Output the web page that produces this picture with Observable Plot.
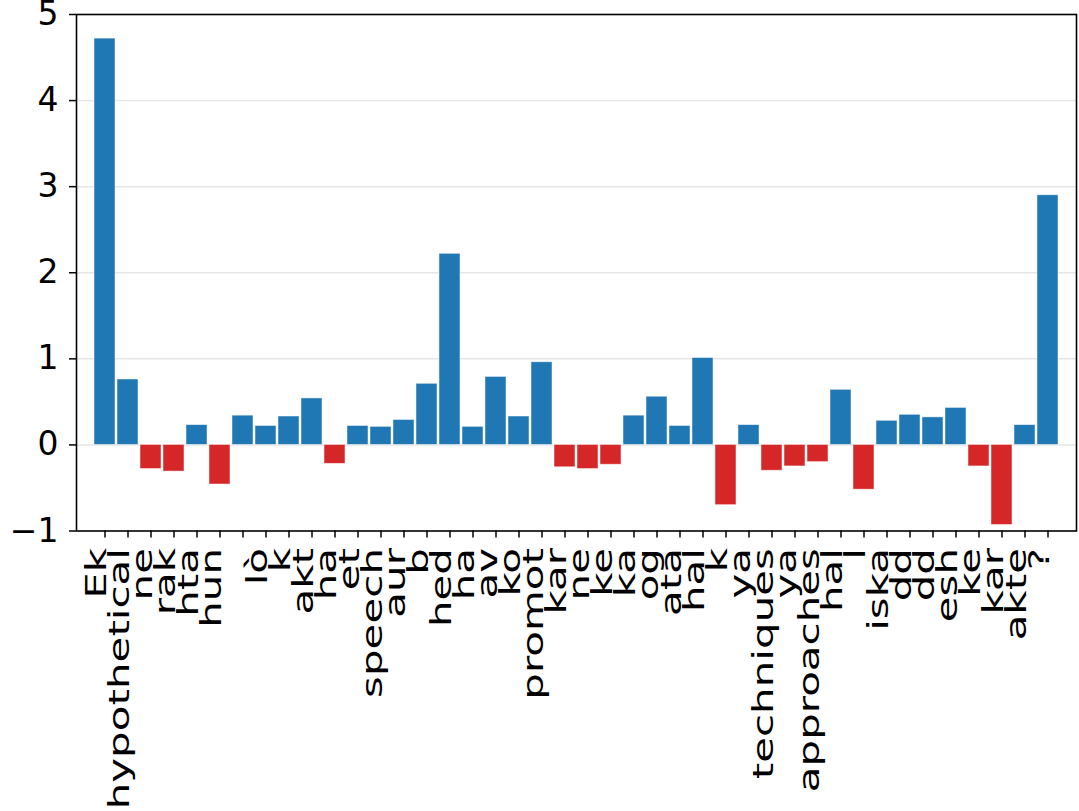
<!DOCTYPE html>
<html><head><meta charset="utf-8">
<script src="https://cdn.jsdelivr.net/npm/d3@7"></script>
<script src="https://cdn.jsdelivr.net/npm/@observablehq/plot@0.6"></script>
<style>body{margin:0;background:#fff}</style>
</head><body><div id="chart"></div>
<script>
const labels = ["Ek","hypothetical","ne","rak","hta","hun"," ","lò","k","akt","ha","et","speech","aur","b","hed","ha","av","ko","promot","kar","ne","ke","ka","og","ata","hal","k","ya","techniques","ya","approaches","hal","l","iska","dd","dd","esh","ke","kar","akte","?"];
const values = [4.72,0.76,-0.28,-0.31,0.23,-0.46,0.34,0.22,0.33,0.54,-0.22,0.22,0.21,0.29,0.71,2.22,0.21,0.79,0.33,0.96,-0.26,-0.28,-0.23,0.34,0.56,0.22,1.01,-0.70,0.23,-0.30,-0.25,-0.20,0.64,-0.52,0.28,0.35,0.32,0.43,-0.25,-0.93,0.23,2.90];
const yTicks = [-1,0,1,2,3,4,5];
const gridValues = [0,1,2,3,4];
const data = labels.map((l,i)=>({i, label:l, value:values[i]}));
const idx = d3.range(labels.length);
const chart = Plot.plot({
  width:1079, height:811,
  marginLeft:76, marginRight:3, marginTop:14, marginBottom:280.5,
  style:{fontFamily:"DejaVu Sans", fontSize:"28px", background:"#fff", color:"#000"},
  x:{type:"band", domain:idx, paddingInner:0.08, paddingOuter:0.255, axis:null, label:null},
  y:{domain:[-1,5], axis:null, label:null},
  marks:[
    Plot.gridY(gridValues, {stroke:"#e6e6e6", strokeOpacity:1, strokeWidth:1.5}),
    Plot.barY(data, {filter:d=>d.value>=0, x:"i", y:"value", fill:"#1f77b4", stroke:"#fff", strokeWidth:0.8, strokeOpacity:0.6}),
    Plot.barY(data, {filter:d=>d.value<0, x:"i", y:"value", fill:"#d62728", stroke:"#fff", strokeWidth:0.8, strokeOpacity:0.6}),
    Plot.axisX({ticks:idx, tickFormat:i=>labels[i], tickRotate:-90, tickSize:7, tickPadding:10, fontSize:28, strokeWidth:1.5, label:null}),
    Plot.axisY({ticks:yTicks, tickFormat:d=>d<0?"\u2212"+Math.abs(d):String(d), tickSize:7, tickPadding:11, fontSize:33, strokeWidth:1.5, label:null}),
    Plot.frame({stroke:"#000", strokeWidth:1.6})
  ]
});
document.getElementById("chart").appendChild(chart);
d3.select(chart).selectAll('g[aria-label="x-axis tick label"] text').each(function(){
  const t = this.getAttribute("transform") || "";
  this.setAttribute("transform", t + " translate(0,-8) scale(1.5,1)");
});
</script>
</body></html>
